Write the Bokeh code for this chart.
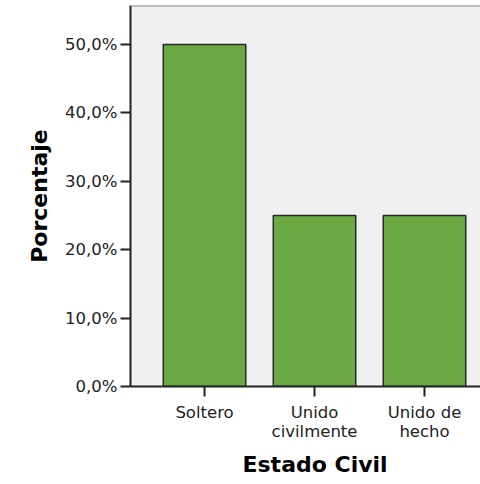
from bokeh.plotting import figure
from bokeh.models import Span, FixedTicker, CustomJSTickFormatter, Title
from bokeh.embed import file_html
from bokeh.resources import INLINE

categories = ["Soltero", "Unido\ncivilmente", "Unido de\nhecho"]
values = [50.0, 25.0, 25.0]
y_ticks = [0, 10, 20, 30, 40, 50]
x_title = "Estado Civil"
y_title = "Porcentaje"

xs = list(range(1, len(categories) + 1))
y_top = 55.7

p = figure(width=480, height=484, output_backend="svg", toolbar_location=None,
           x_range=(0.327, 3.509), y_range=(0, y_top),
           min_border_left=130, min_border_top=5, min_border_right=0, min_border_bottom=98)

p.background_fill_color = "#F0F0F0"
p.border_fill_color = "white"
p.outline_line_color = None
p.xgrid.visible = False
p.ygrid.visible = False

p.vbar(x=xs, top=values, width=0.75, bottom=0,
       fill_color="#6AA843", line_color="#2a2a2a", line_width=1.5)

top_line = Span(location=y_top, dimension="width", line_color="#8a8a8a", line_width=2)
p.add_layout(top_line)

p.xaxis.ticker = FixedTicker(ticks=xs)
p.xaxis.major_label_overrides = {x: c for x, c in zip(xs, categories)}
p.yaxis.ticker = FixedTicker(ticks=y_ticks)
p.yaxis.formatter = CustomJSTickFormatter(code="return tick.toFixed(1).replace('.', ',') + '%';")

for ax in (p.xaxis[0], p.yaxis[0]):
    ax.axis_line_color = "#222222"
    ax.axis_line_width = 2
    ax.major_tick_line_color = "#222222"
    ax.major_tick_line_width = 2
    ax.major_tick_out = 10
    ax.major_tick_in = 0
    ax.minor_tick_line_color = None
    ax.major_label_text_font = "DejaVu Sans"
    ax.major_label_text_font_size = "16.5px"
    ax.major_label_text_color = "#222222"
    ax.axis_label_text_font = "DejaVu Sans"
    ax.axis_label_text_font_style = "bold"
    ax.axis_label_text_font_size = "22px"
    ax.axis_label_text_color = "black"

p.xaxis.major_label_text_line_height = 1.0
p.yaxis.axis_label = y_title
p.xaxis.major_label_standoff = 6
p.yaxis.major_label_standoff = 3
p.yaxis.axis_label_standoff = 10

xlab = Title(text=x_title, align="left", offset=112, text_font="DejaVu Sans",
             text_font_style="bold", text_font_size="22px", text_color="black",
             standoff=13)
p.add_layout(xlab, "below")

open("out.html", "w").write(file_html(p, INLINE))
